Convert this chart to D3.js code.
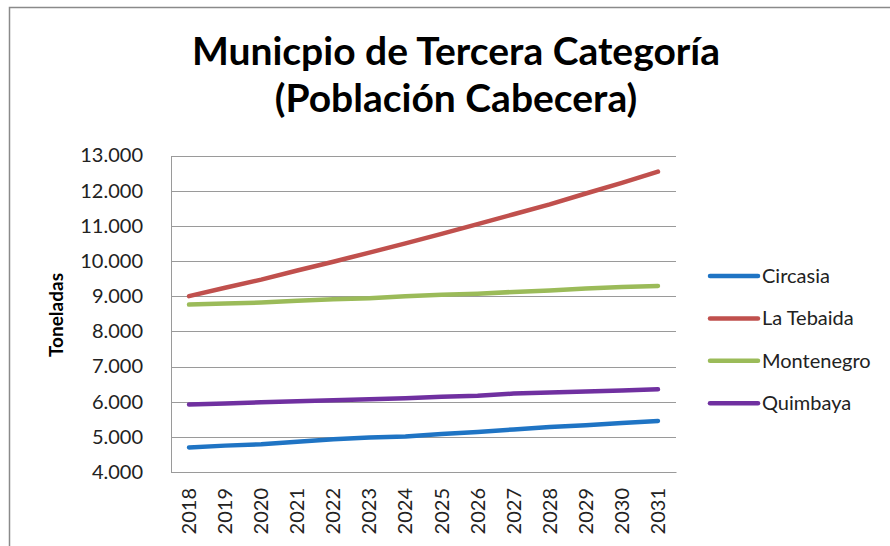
<!DOCTYPE html>
<html><head><meta charset="utf-8">
<script src="https://cdn.jsdelivr.net/npm/d3@7"></script>
<style>body{margin:0;background:#fff;}svg{display:block;}</style>
</head><body><svg id="c" width="890" height="546"></svg>
<script>
const years = ["2018","2019","2020","2021","2022","2023","2024","2025","2026","2027","2028","2029","2030","2031"];
const circasia   = [4700,4750,4790,4860,4930,4980,5010,5080,5140,5210,5280,5330,5390,5450];
const laTebaida  = [9000,9240,9470,9730,9980,10240,10500,10770,11050,11330,11610,11920,12220,12540];
const montenegro = [8760,8790,8820,8870,8910,8940,9000,9040,9070,9120,9160,9220,9260,9290];
const quimbaya   = [5920,5950,5980,6010,6040,6070,6100,6140,6170,6230,6260,6290,6320,6350];
const seriesNames = ["Circasia","La Tebaida","Montenegro","Quimbaya"];
const seriesColors = ["#1F74C4","#C0504D","#9BBB59","#7030A0"];
const yTicks = [4000,5000,6000,7000,8000,9000,10000,11000,12000,13000];
const titleLines = ["Municpio de Tercera Categoría","(Población Cabecera)"];
const yTitle = "Toneladas";

const series = [circasia, laTebaida, montenegro, quimbaya];
const svg = d3.select("#c");
const L = 171, R = 676, T = 155.5, B = 472;
const x = d3.scaleBand().domain(years).range([L, R]);
const y = d3.scaleLinear().domain([4000, 13000]).range([B, T]);
const fmt = v => d3.format(",")(v).replace(/,/g, ".");
const font = "Lato, 'Open Sans', sans-serif";

// chart border
svg.append("path").attr("d", `M9.5,546 V7.5 H890`).attr("fill","none").attr("stroke","#8a8a8a").attr("stroke-width",1.5);

// title
svg.append("text").attr("x",456).attr("y",65).attr("text-anchor","middle")
  .attr("font-family",font).attr("font-weight","bold").attr("font-size",39).attr("fill","#000").text(titleLines[0]);
svg.append("text").attr("x",456).attr("y",112).attr("text-anchor","middle")
  .attr("font-family",font).attr("font-weight","bold").attr("font-size",39).attr("fill","#000").text(titleLines[1]);

// gridlines
svg.append("g").selectAll("line").data(yTicks).join("line")
  .attr("x1",L).attr("x2",R).attr("y1",d=>Math.round(y(d))+0.5).attr("y2",d=>Math.round(y(d))+0.5)
  .attr("stroke","#9a9a9a").attr("stroke-width",1);

// y axis
const ya = svg.append("g").attr("transform",`translate(${L},0)`)
  .call(d3.axisLeft(y).tickValues(yTicks).tickFormat(fmt).tickSize(0).tickPadding(28));
ya.select(".domain").attr("stroke","#9a9a9a");
ya.selectAll("text").attr("font-family",font).attr("font-size",20).attr("fill","#222");

// x axis
const xa = svg.append("g").attr("transform",`translate(0,${B})`)
  .call(d3.axisBottom(x).tickSize(0));
xa.select(".domain").attr("stroke","#9a9a9a");
xa.selectAll("text").attr("font-family",font).attr("font-size",20).attr("fill","#222")
  .attr("transform","rotate(-90)").attr("text-anchor","end").attr("dy","0.35em").attr("x",-16).attr("y",0);

// y title
svg.append("text").attr("transform","translate(63,315) rotate(-90)").attr("text-anchor","middle")
  .attr("font-family",font).attr("font-weight","bold").attr("font-size",19).attr("fill","#000").text(yTitle);

// lines
const line = d3.line().x((d,i)=>x(years[i])+x.bandwidth()/2).y(d=>y(d));
svg.append("g").selectAll("path").data(series).join("path")
  .attr("d",line).attr("fill","none").attr("stroke",(d,i)=>seriesColors[i])
  .attr("stroke-width",4.5).attr("stroke-linecap","round").attr("stroke-linejoin","round");

// legend
const lg = svg.append("g").selectAll("g").data(seriesNames).join("g")
  .attr("transform",(d,i)=>`translate(710,${276 + i*42.4})`);
lg.append("line").attr("x1",0).attr("x2",48).attr("stroke",(d,i)=>seriesColors[i]).attr("stroke-width",4.5).attr("stroke-linecap","round");
lg.append("text").attr("x",52).attr("dy","0.35em").attr("font-family",font).attr("font-size",20).attr("fill","#222").text(d=>d);
</script></body></html>
